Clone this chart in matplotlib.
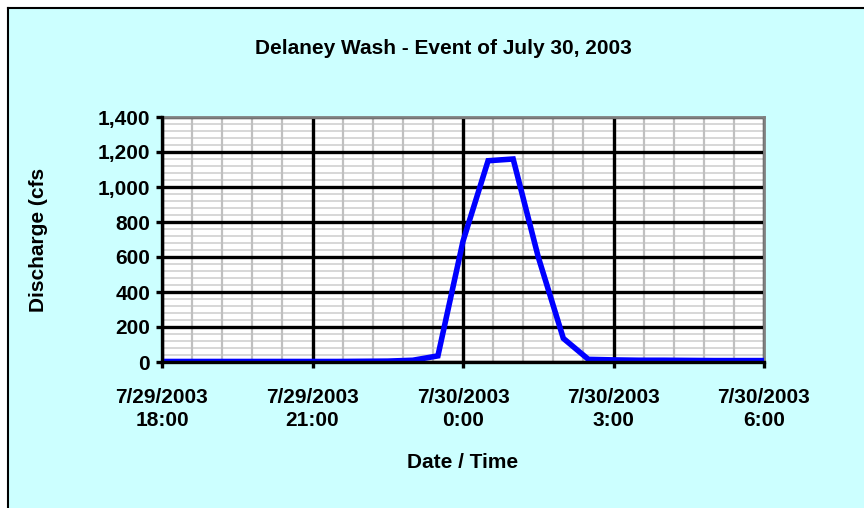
import matplotlib
matplotlib.use("Agg")
import matplotlib.pyplot as plt
from matplotlib.patches import Rectangle
from matplotlib.lines import Line2D
from matplotlib.ticker import FuncFormatter

plt.rcParams['font.family'] = ['Liberation Sans', 'DejaVu Sans']

# Hours after 7/29/2003 18:00, every 30 minutes
hours = [0.0, 0.5, 1.0, 1.5, 2.0, 2.5, 3.0, 3.5, 4.0, 4.5,
         5.0, 5.5, 6.0, 6.5, 7.0, 7.5, 8.0, 8.5,
         9.0, 9.5, 10.0, 10.5, 11.0, 11.5, 12.0]
discharge = [3, 3, 3, 3, 3, 3, 3, 3, 4, 5,
             10, 35, 690, 1150, 1160, 600, 135, 15,
             12, 10, 10, 9, 8, 8, 8]

tick_hours = [0, 3, 6, 9, 12]
tick_labels = ["7/29/2003\n18:00", "7/29/2003\n21:00", "7/30/2003\n0:00",
               "7/30/2003\n3:00", "7/30/2003\n6:00"]
y_ticks = [0, 200, 400, 600, 800, 1000, 1200, 1400]

title = "Delaney Wash - Event of July 30, 2003"
xlabel = "Date / Time"
ylabel = "Discharge (cfs"

bg = "#CCFFFF"
W, H = 864, 508
FS = 15
fig = plt.figure(figsize=(W / 100, H / 100), dpi=100)
fig.patch.set_facecolor("white")
bx, by = 8, 8
fig.patches.append(Rectangle((bx / W, 0), 1 - bx / W, 1 - by / H, transform=fig.transFigure,
                             facecolor=bg, edgecolor="none", zorder=-2))
fig.lines.append(Line2D([bx / W, bx / W], [0, 1 - by / H], transform=fig.transFigure,
                        color="black", linewidth=1.5, zorder=-1))
fig.lines.append(Line2D([bx / W, 1], [1 - by / H, 1 - by / H], transform=fig.transFigure,
                        color="black", linewidth=1.5, zorder=-1))

left, right, top, bottom = 162, 764, 117, 362
ax = fig.add_axes([left / W, (H - bottom) / H, (right - left) / W, (bottom - top) / H])
ax.set_zorder(2)
ax.set_facecolor("white")

xmin, xmax, ymin, ymax = 0, 12, 0, 1400
ax.set_xlim(xmin, xmax)
ax.set_ylim(ymin, ymax)

x_minor = [i * 0.6 for i in range(1, 20) if i % 5 != 0]
y_minor = [i * 40 for i in range(1, 35) if i % 5 != 0]

# grid: minor first, majors on top
ax.hlines(y_minor, xmin, xmax, colors="#D4D4D4", linewidth=1.3, zorder=1)
ax.vlines(x_minor, ymin, ymax, colors="#C0C0C0", linewidth=1.6, zorder=1.2)
ax.hlines(y_ticks, xmin, xmax, colors="black", linewidth=2.4, zorder=2)
ax.vlines(tick_hours, ymin, ymax, colors="black", linewidth=2.4, zorder=2)

ax.plot(hours, discharge, color="#0000FF", linewidth=4.0, solid_joinstyle="miter", zorder=5)

ax.set_xticks(tick_hours)
ax.set_yticks(y_ticks)
ax.set_xticklabels(tick_labels, fontsize=FS, fontweight="bold", linespacing=1.3)
ax.yaxis.set_major_formatter(FuncFormatter(lambda v, p: f"{int(v):,}"))
for lab in ax.get_yticklabels():
    lab.set_fontsize(FS)
    lab.set_fontweight("bold")

ax.tick_params(which="major", direction="out", length=4.5, width=2.4, color="black")
ax.tick_params(axis="y", pad=4)
ax.tick_params(axis="x", pad=14)
ax.minorticks_off()

for s in ["left", "bottom"]:
    ax.spines[s].set_color("black")
    ax.spines[s].set_linewidth(2.4)
    ax.spines[s].set_zorder(6)
for s in ["top", "right"]:
    ax.spines[s].set_color("#808080")
    ax.spines[s].set_linewidth(2.0)

fig.text(443 / W, 1 - 48 / H, title, ha="center", va="center", fontsize=FS, fontweight="bold")
fig.text(463 / W, 1 - 463 / H, xlabel, ha="center", va="center", fontsize=FS, fontweight="bold")
fig.text(38 / W, 1 - 240 / H, ylabel, ha="center", va="center", rotation=90, fontsize=FS,
         fontweight="bold")

fig.savefig("out.png", dpi=100, facecolor="white")
